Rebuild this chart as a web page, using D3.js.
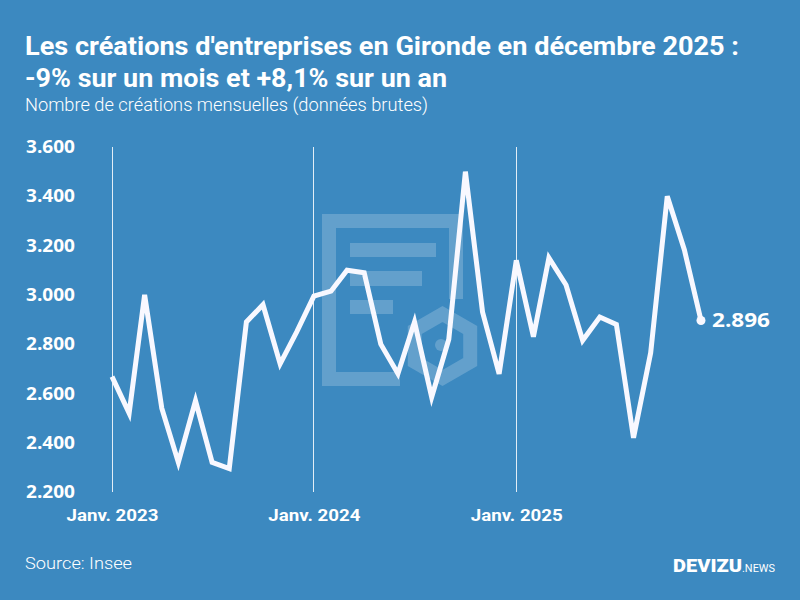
<!DOCTYPE html>
<html>
<head>
<meta charset="utf-8">
<script src="https://cdn.jsdelivr.net/npm/d3@7"></script>
<style>
  html, body { margin: 0; padding: 0; background: #3c89c0; }
  svg { display: block; }
</style>
</head>
<body>
<div id="chart"></div>
<script>
// ---- Data ----
const months = [
  "2023-01","2023-02","2023-03","2023-04","2023-05","2023-06","2023-07","2023-08","2023-09","2023-10","2023-11","2023-12",
  "2024-01","2024-02","2024-03","2024-04","2024-05","2024-06","2024-07","2024-08","2024-09","2024-10","2024-11","2024-12",
  "2025-01","2025-02","2025-03","2025-04","2025-05","2025-06","2025-07","2025-08","2025-09","2025-10","2025-11","2025-12"
];
const creations = [
  2668, 2520, 3000, 2540, 2320, 2570, 2320, 2295, 2890, 2960, 2720, 2850,
  2995, 3015, 3100, 3090, 2800, 2680, 2890, 2585, 2820, 3500, 2930, 2679,
  3140, 2830, 3150, 3040, 2815, 2910, 2880, 2420, 2765, 3400, 3182, 2896
];
const yTicks = [2200, 2400, 2600, 2800, 3000, 3200, 3400, 3600];
const xTickMonths = ["2023-01", "2024-01", "2025-01"];
const xTickLabels = ["Janv. 2023", "Janv. 2024", "Janv. 2025"];
const titleLines = [
  "Les créations d'entreprises en Gironde en décembre 2025 :",
  "-9% sur un mois et +8,1% sur un an"
];
const subtitle = "Nombre de créations mensuelles (données brutes)";
const sourceText = "Source: Insee";

// ---- Setup ----
const W = 800, H = 600;
const BG = "#3c89c0";
const svg = d3.select("#chart").append("svg").attr("width", W).attr("height", H);
svg.append("rect").attr("width", W).attr("height", H).attr("fill", BG);

const parse = d3.timeParse("%Y-%m");
const data = months.map((m, i) => ({ date: parse(m), value: creations[i] }));

const x = d3.scaleTime()
  .domain([parse(months[0]), parse(months[months.length - 1])])
  .range([112, 701]);
const y = d3.scaleLinear().domain([2200, 3600]).range([492, 147]);

// ---- Titles ----
svg.append("text").attr("x", 25).attr("y", 55)
  .attr("font-family", "Roboto, sans-serif").attr("font-weight", 700).attr("font-size", 26)
  .attr("fill", "#ffffff").attr("textLength", 714).attr("lengthAdjust", "spacingAndGlyphs")
  .text(titleLines[0]);
svg.append("text").attr("x", 25).attr("y", 87)
  .attr("font-family", "Roboto, sans-serif").attr("font-weight", 700).attr("font-size", 26)
  .attr("fill", "#ffffff").attr("textLength", 422).attr("lengthAdjust", "spacingAndGlyphs")
  .text(titleLines[1]);
svg.append("text").attr("x", 25).attr("y", 111)
  .attr("font-family", "Roboto, sans-serif").attr("font-weight", 300).attr("font-size", 18)
  .attr("fill", "#ffffff").attr("textLength", 403).attr("lengthAdjust", "spacingAndGlyphs")
  .text(subtitle);

// ---- Watermark (decorative) ----
const wm = svg.append("g").attr("fill", "#ffffff").attr("fill-opacity", 0.2);
wm.append("path").attr("fill-rule", "evenodd")
  .attr("d", "M322,214 H463 V299 H449 V228 H336 V372 H400 V386 H322 Z");
wm.append("rect").attr("x", 350).attr("y", 243).attr("width", 86).attr("height", 14);
wm.append("rect").attr("x", 350).attr("y", 271).attr("width", 72).attr("height", 15);
wm.append("rect").attr("x", 350).attr("y", 300).attr("width", 43).attr("height", 14);
const hexR = 32, hcx = 442.5, hcy = 346;
const hexPts = d3.range(6).map(k => {
  const a = Math.PI / 180 * (60 * k - 90);
  return [hcx + hexR * Math.cos(a), hcy + hexR * Math.sin(a)];
});
svg.append("path").attr("d", "M" + hexPts.join("L") + "Z")
  .attr("fill", "none").attr("stroke", "#ffffff").attr("stroke-opacity", 0.2)
  .attr("stroke-width", 14).attr("stroke-linejoin", "miter");
wm.append("circle").attr("cx", 441).attr("cy", 345).attr("r", 6);

// ---- Grid (vertical year lines) ----
svg.append("g").selectAll("line").data(xTickMonths).join("line")
  .attr("x1", d => x(parse(d))).attr("x2", d => x(parse(d)))
  .attr("y1", y(3600)).attr("y2", y(2200))
  .attr("stroke", "#ffffff").attr("stroke-opacity", 0.85).attr("stroke-width", 1)
  .attr("shape-rendering", "crispEdges");

// ---- Y axis labels ----
const fmt = v => d3.format(",")(v).replace(/,/g, ".");
const yAxis = svg.append("g").attr("transform", "translate(75,0)")
  .call(d3.axisLeft(y).tickValues(yTicks).tickSize(0).tickPadding(0).tickFormat(fmt));
yAxis.select(".domain").remove();
yAxis.selectAll("text")
  .attr("fill", "#ffffff").attr("font-family", "'Open Sans', sans-serif")
  .attr("font-weight", 700).attr("font-size", 17.5).attr("text-anchor", "end")
  .attr("textLength", 49).attr("lengthAdjust", "spacingAndGlyphs");

// ---- X axis labels ----
const xAxis = svg.append("g").attr("transform", "translate(0,508)")
  .call(d3.axisBottom(x).tickValues(xTickMonths.map(parse)).tickSize(0).tickPadding(0)
    .tickFormat((d, i) => xTickLabels[i]));
xAxis.select(".domain").remove();
xAxis.selectAll("text")
  .attr("fill", "#ffffff").attr("font-family", "Roboto, sans-serif")
  .attr("font-weight", 700).attr("font-size", 16).attr("dy", "0.8em")
  .attr("textLength", 92).attr("lengthAdjust", "spacingAndGlyphs");

// ---- Line ----
const line = d3.line().x(d => x(d.date)).y(d => y(d.value));
svg.append("path").datum(data)
  .attr("d", line).attr("fill", "none")
  .attr("stroke", "#f8f8ff").attr("stroke-width", 5)
  .attr("stroke-linejoin", "miter").attr("stroke-miterlimit", 4);

const last = data[data.length - 1];
svg.append("circle").attr("cx", x(last.date)).attr("cy", y(last.value)).attr("r", 4.5)
  .attr("fill", "#f8f8ff");
svg.append("text").attr("x", x(last.date) + 11).attr("y", y(last.value))
  .attr("dy", "0.35em")
  .attr("fill", "#ffffff").attr("font-family", "'Open Sans', sans-serif")
  .attr("font-weight", 700).attr("font-size", 19.5)
  .attr("textLength", 58).attr("lengthAdjust", "spacingAndGlyphs")
  .text(fmt(last.value));

// ---- Footer ----
svg.append("text").attr("x", 25).attr("y", 569)
  .attr("font-family", "Roboto, sans-serif").attr("font-weight", 300).attr("font-size", 17)
  .attr("fill", "#ffffff").attr("textLength", 107).attr("lengthAdjust", "spacingAndGlyphs")
  .text(sourceText);

const logo = svg.append("text").attr("x", 673).attr("y", 572)
  .attr("font-family", "Roboto, sans-serif").attr("fill", "#ffffff");
logo.append("tspan").attr("font-weight", 900).attr("font-size", 19)
  .attr("textLength", 69).attr("lengthAdjust", "spacingAndGlyphs").text("DEVIZU");
logo.append("tspan").attr("font-weight", 400).attr("font-size", 10)
  .attr("textLength", 33).attr("lengthAdjust", "spacingAndGlyphs").text(".NEWS");
</script>
</body>
</html>
